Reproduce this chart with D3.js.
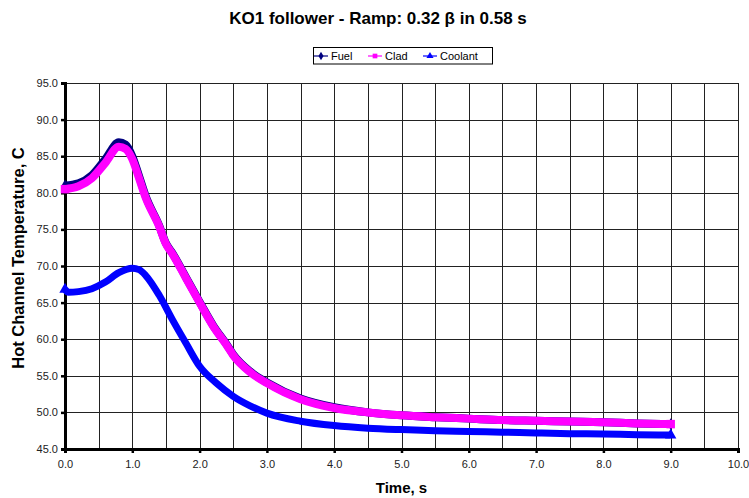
<!DOCTYPE html>
<html>
<head>
<meta charset="utf-8">
<script src="https://cdn.jsdelivr.net/npm/d3@7"></script>
<style>
  html, body { margin: 0; padding: 0; background: #fff; }
  svg { display: block; font-family: "Liberation Sans", Arial, sans-serif; }
</style>
</head>
<body>
<svg id="chart" width="749" height="498"></svg>
<script>
// ---- data ----
const timeFuel = [0, 0.2, 0.4, 0.6, 0.8, 0.9, 1.0, 1.1, 1.2, 1.4, 1.5, 1.6, 1.8, 2.0, 2.2, 2.4, 2.5, 2.75, 3.0, 3.5, 4.0, 4.5, 5.0, 5.5, 6.0, 6.5, 7.0, 7.5, 8.0, 8.5, 9.0];
const fuel     = [81.0, 81.3, 82.4, 84.6, 86.9, 86.6, 85.0, 82.3, 79.5, 75.5, 73.1, 71.7, 68.4, 65.1, 61.9, 59.3, 57.9, 55.6, 54.1, 51.9, 50.7, 50.0, 49.6, 49.35, 49.15, 48.95, 48.85, 48.75, 48.65, 48.5, 48.4];
const timeClad = [0, 0.2, 0.4, 0.6, 0.8, 0.9, 1.0, 1.1, 1.2, 1.4, 1.5, 1.6, 1.8, 2.0, 2.2, 2.4, 2.5, 2.75, 3.0, 3.5, 4.0, 4.5, 5.0, 5.5, 6.0, 6.5, 7.0, 7.5, 8.0, 8.5, 9.0];
const clad     = [80.5, 80.9, 82.0, 84.1, 86.3, 86.0, 84.6, 82.0, 79.3, 75.4, 73.0, 71.6, 68.3, 65.0, 61.8, 59.2, 57.8, 55.5, 54.0, 51.8, 50.6, 50.0, 49.6, 49.35, 49.15, 48.95, 48.85, 48.75, 48.65, 48.5, 48.4];
const timeCool = [0, 0.05, 0.2, 0.4, 0.6, 0.8, 1.0, 1.1, 1.2, 1.4, 1.6, 1.8, 2.0, 2.25, 2.5, 2.75, 3.0, 3.5, 4.0, 4.5, 5.0, 5.5, 6.0, 6.5, 7.0, 7.5, 8.0, 8.5, 9.0];
const coolant  = [66.8, 66.4, 66.5, 66.9, 67.8, 69.1, 69.7, 69.5, 68.7, 66.0, 62.6, 59.4, 56.3, 54.0, 52.2, 50.9, 49.9, 48.8, 48.2, 47.85, 47.65, 47.5, 47.4, 47.3, 47.2, 47.1, 47.05, 46.95, 46.9];

const xTickValues = [0, 1, 2, 3, 4, 5, 6, 7, 8, 9, 10];
const xGridValues = [0.5, 1, 1.5, 2, 2.5, 3, 3.5, 4, 4.5, 5, 5.5, 6, 6.5, 7, 7.5, 8, 8.5, 9, 9.5, 10];
const yTickValues = [45, 50, 55, 60, 65, 70, 75, 80, 85, 90, 95];

const titleText = "KO1 follower - Ramp: 0.32 β in 0.58 s";
const xTitle = "Time, s";
const yTitle = "Hot Channel Temperature, C";
const seriesNames = ["Fuel", "Clad", "Coolant"];
const seriesColors = ["#000080", "#FF00FF", "#0000FF"];

// ---- layout ----
const svg = d3.select("#chart");
const L = 65, R = 738, T = 83, B = 449;
const x = d3.scaleLinear().domain([0, 10]).range([L, R]);
const y = d3.scaleLinear().domain([45, 95]).range([B, T]);

// grid
const grid = svg.append("g").attr("shape-rendering", "crispEdges");
grid.selectAll("line.v").data(xGridValues).enter().append("line")
  .attr("x1", d => Math.round(x(d)) + 0.5).attr("x2", d => Math.round(x(d)) + 0.5)
  .attr("y1", T).attr("y2", B).attr("stroke", "#222").attr("stroke-width", 1);
grid.selectAll("line.h").data(yTickValues.slice(1)).enter().append("line")
  .attr("y1", d => Math.round(y(d)) + 0.5).attr("y2", d => Math.round(y(d)) + 0.5)
  .attr("x1", L).attr("x2", R).attr("stroke", "#222").attr("stroke-width", 1);

// axes
const yAxis = d3.axisLeft(y).tickValues(yTickValues).tickFormat(d3.format(".1f")).tickSize(4).tickPadding(3);
const xAxis = d3.axisBottom(x).tickValues(xTickValues).tickFormat(d3.format(".1f")).tickSize(4).tickPadding(7);

const gy = svg.append("g").attr("transform", `translate(${L},0)`).call(yAxis);
const gx = svg.append("g").attr("transform", `translate(0,${B})`).call(xAxis);
[gx, gy].forEach(g => {
  g.select(".domain").attr("stroke", "#000").attr("stroke-width", 3);
  g.selectAll(".tick line").attr("stroke", "#000").attr("stroke-width", 2.5);
  g.selectAll(".tick text").attr("fill", "#222").style("font-size", "11px")
    .style("font-family", '"Liberation Sans", Arial, sans-serif');
});

// series
svg.append("defs").append("clipPath").attr("id", "clipArea")
  .append("rect").attr("x", 0).attr("y", T - 10).attr("width", 749).attr("height", B - T + 10);

const series = [
  { name: seriesNames[0], t: timeFuel, v: fuel, color: seriesColors[0], sym: d3.symbolDiamond, w: 8, ms: 40 },
  { name: seriesNames[1], t: timeClad, v: clad, color: seriesColors[1], sym: d3.symbolSquare, w: 8, ms: 72 },
  { name: seriesNames[2], t: timeCool, v: coolant, color: seriesColors[2], sym: d3.symbolTriangle, w: 7, ms: 56 }
];

const line = d3.line().x(d => x(d[0])).y(d => y(d[1])).curve(d3.curveMonotoneX);
const plot = svg.append("g").attr("clip-path", "url(#clipArea)");
series.forEach(s => {
  const pts = s.t.map((t, i) => [t, s.v[i]]);
  const g = plot.append("g");
  g.append("path").datum(pts).attr("d", line).attr("fill", "none")
    .attr("stroke", s.color).attr("stroke-width", s.w).attr("stroke-linejoin", "round");
  g.selectAll("path.m").data([pts[0], pts[pts.length - 1]]).enter().append("path")
    .attr("transform", d => `translate(${x(d[0])},${y(d[1])})`)
    .attr("d", d3.symbol().type(s.sym).size(s.ms))
    .attr("fill", s.color);
});

// title
svg.append("text").attr("x", 378).attr("y", 24).attr("text-anchor", "middle")
  .style("font-size", "17px").style("font-weight", "bold").attr("fill", "#000").text(titleText);

// axis titles
svg.append("text").attr("x", (L + R) / 2).attr("y", 493).attr("text-anchor", "middle")
  .style("font-size", "15px").style("font-weight", "bold").text(xTitle);
svg.append("text").attr("transform", `translate(24,${258}) rotate(-90)`).attr("text-anchor", "middle")
  .style("font-size", "16.5px").style("font-weight", "bold").text(yTitle);

// legend
const lg = svg.append("g");
lg.append("rect").attr("x", 313.5).attr("y", 47.5).attr("width", 179).attr("height", 16.5)
  .attr("fill", "#fff").attr("stroke", "#000").attr("stroke-width", 1);
const legX = [314, 368, 423];
series.forEach((s, i) => {
  const lx = legX[i];
  lg.append("line").attr("x1", lx).attr("x2", lx + 14).attr("y1", 56).attr("y2", 56)
    .attr("stroke", s.color).attr("stroke-width", 1.2);
  lg.append("path").attr("transform", `translate(${lx + 7},56)`)
    .attr("d", d3.symbol().type(s.sym).size(22)).attr("fill", s.color);
  lg.append("text").attr("x", lx + 17).attr("y", 60).style("font-size", "11px").attr("fill", "#000").text(s.name);
});
</script>
</body>
</html>
